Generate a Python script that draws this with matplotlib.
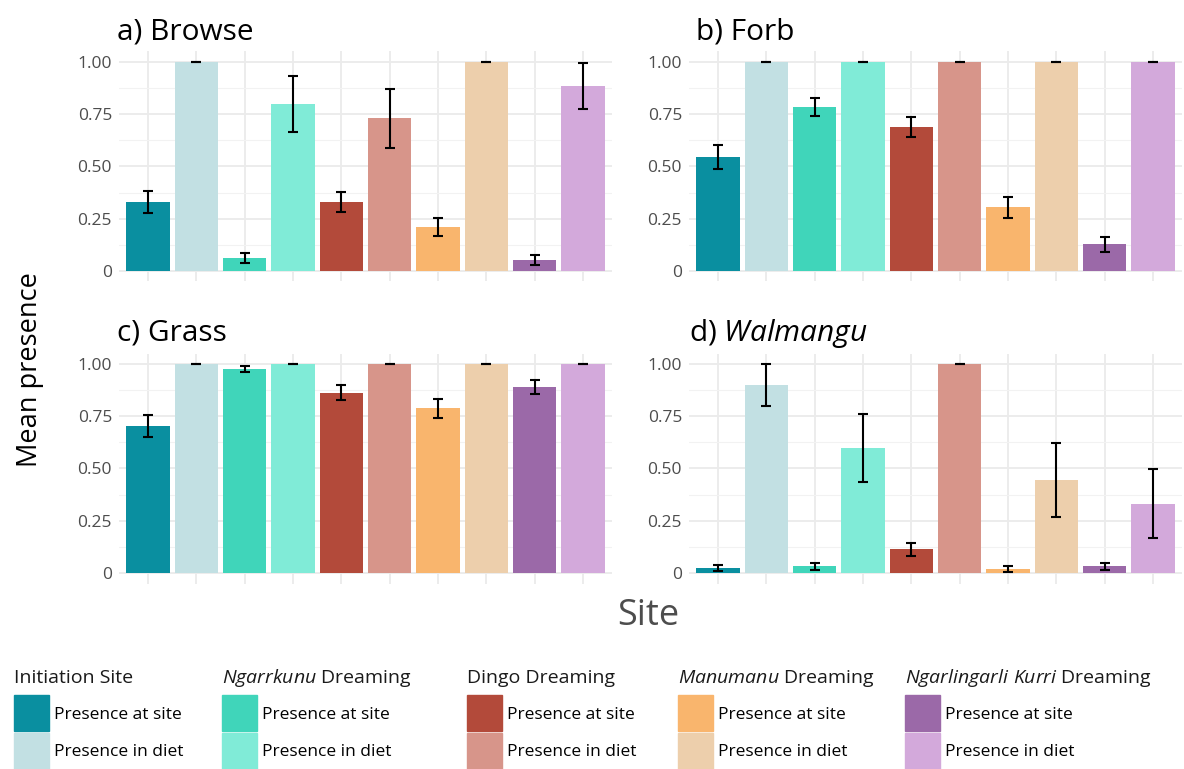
import matplotlib
matplotlib.use("Agg")
from matplotlib import pyplot as plt
from matplotlib.patches import Rectangle
from matplotlib.ticker import MultipleLocator
import numpy as np

plt.rcParams['font.family'] = ['Open Sans', 'DejaVu Sans']
plt.rcParams['mathtext.fontset'] = 'custom'
plt.rcParams['mathtext.rm'] = 'Open Sans'
plt.rcParams['mathtext.it'] = 'Open Sans:italic'

# site groups, in plotting order
groups = ["Initiation Site", r"$\mathit{Ngarrkunu}$ Dreaming", "Dingo Dreaming",
          r"$\mathit{Manumanu}$ Dreaming", r"$\mathit{Ngarlingarli\ Kurri}$ Dreaming"]
site_colours = ["#0A8FA0", "#40D5BA", "#B34A3A", "#F9B56D", "#9B69A8"]
diet_colours = ["#C2E0E3", "#80EBD7", "#D7958A", "#EDCFAC", "#D3A9DB"]

# mean presence (at site / in diet) and standard errors
browse_site = [0.330, 0.063, 0.330, 0.212, 0.054]
browse_site_se = [0.053, 0.025, 0.048, 0.044, 0.024]
browse_diet = [1.0, 0.800, 0.730, 1.0, 0.885]
browse_diet_se = [0.0, 0.134, 0.141, 0.0, 0.112]

forb_site = [0.544, 0.785, 0.689, 0.305, 0.128]
forb_site_se = [0.058, 0.043, 0.047, 0.050, 0.036]
forb_diet = [1.0, 1.0, 1.0, 1.0, 1.0]
forb_diet_se = [0.0, 0.0, 0.0, 0.0, 0.0]

grass_site = [0.703, 0.976, 0.863, 0.787, 0.890]
grass_site_se = [0.052, 0.015, 0.036, 0.044, 0.032]
grass_diet = [1.0, 1.0, 1.0, 1.0, 1.0]
grass_diet_se = [0.0, 0.0, 0.0, 0.0, 0.0]

walm_site = [0.024, 0.032, 0.113, 0.019, 0.032]
walm_site_se = [0.015, 0.018, 0.031, 0.015, 0.018]
walm_diet = [0.898, 0.599, 1.0, 0.444, 0.332]
walm_diet_se = [0.100, 0.163, 0.0, 0.177, 0.166]

panels = [
    ("a) ", "Browse", False, browse_site, browse_site_se, browse_diet, browse_diet_se),
    ("b) ", "Forb", False, forb_site, forb_site_se, forb_diet, forb_diet_se),
    ("c) ", "Grass", False, grass_site, grass_site_se, grass_diet, grass_diet_se),
    ("d) ", "Walmangu", True, walm_site, walm_site_se, walm_diet, walm_diet_se),
]

W, H = 1184, 769
fig = plt.figure(figsize=(W / 100, H / 100), dpi=100)

# panel boxes in pixels: left, top, right, bottom
boxes = [(119, 51.5, 612, 281.5), (689, 51.5, 1182, 281.5),
         (119, 353.5, 612, 583.5), (689, 353.5, 1182, 583.5)]
title_pos = [(117, 39), (696, 39), (117, 340), (689, 341)]

for (lab, name, ital, s, s_se, d, d_se), box, tp in zip(panels, boxes, title_pos):
    l, t, r, b = box
    ax = fig.add_axes([l / W, 1 - b / H, (r - l) / W, (b - t) / H])
    xs = np.arange(5) * 2
    ax.bar(xs, s, width=0.9, color=site_colours, zorder=2)
    ax.bar(xs + 1, d, width=0.9, color=diet_colours, zorder=2)
    ax.errorbar(xs, s, yerr=s_se, fmt="none", ecolor="black", elinewidth=1.5,
                capsize=3.8, capthick=1.5, zorder=3)
    ax.errorbar(xs + 1, d, yerr=d_se, fmt="none", ecolor="black", elinewidth=1.5,
                capsize=3.8, capthick=1.5, zorder=3)
    ax.set_xlim(-0.6, 9.6)
    ax.set_ylim(-0.05, 1.05)
    ax.set_xticks(np.arange(10))
    ax.set_xticklabels([])
    ax.yaxis.set_major_locator(MultipleLocator(0.25))
    ax.yaxis.set_minor_locator(MultipleLocator(0.125))
    ax.set_yticks([0, 0.25, 0.5, 0.75, 1.0])
    ax.set_yticklabels(["0", "0.25", "0.50", "0.75", "1.00"])
    ax.tick_params(axis="both", which="both", length=0, labelsize=12.5,
                   labelcolor="#4D4D4D", pad=5)
    ax.grid(True, which="major", color="#EBEBEB", linewidth=1.3, zorder=0)
    ax.grid(True, which="minor", axis="y", color="#F2F2F2", linewidth=0.8, zorder=0)
    ax.set_axisbelow(True)
    for sp in ax.spines.values():
        sp.set_visible(False)
    txt = lab + (r"$\mathit{" + name + "}$" if ital else name)
    fig.text(tp[0] / W, 1 - tp[1] / H, txt, fontsize=21.5, va="baseline", ha="left")

fig.text(30 / W, 1 - 370 / H, "Mean presence", rotation=90, fontsize=19.5,
         va="center", ha="center")
fig.text(648 / W, 1 - 616 / H, "Site", fontsize=26, color="#4D4D4D",
         va="center", ha="center")

# legend, one column per site group
leg_x = [14, 222, 467, 678, 905]
for gx, g, sc, dc in zip(leg_x, groups, site_colours, diet_colours):
    fig.text(gx / W, 1 - 683 / H, g, fontsize=14, color="#1A1A1A", va="baseline")
    fig.patches.append(Rectangle((gx / W, 1 - 731 / H), 35 / W, 36 / H,
                                 transform=fig.transFigure, color=sc, figure=fig))
    fig.patches.append(Rectangle((gx / W, 1 - 769 / H), 35 / W, 36 / H,
                                 transform=fig.transFigure, color=dc, figure=fig))
    fig.text((gx + 40) / W, 1 - 715 / H, "Presence at site", fontsize=12.5,
             va="center")
    fig.text((gx + 40) / W, 1 - 752 / H, "Presence in diet", fontsize=12.5,
             va="center")

plt.savefig("out.png", dpi=100)
